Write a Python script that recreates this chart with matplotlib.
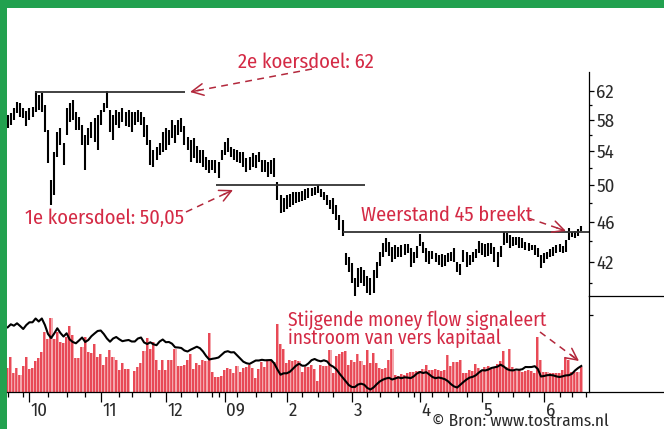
import numpy as np
import matplotlib
matplotlib.use('Agg')
import matplotlib.pyplot as plt
from matplotlib.lines import Line2D
from matplotlib.patches import Rectangle, FancyArrowPatch
from matplotlib.ticker import FixedLocator, FixedFormatter, NullFormatter

plt.rcParams['font.family'] = ['Fira Sans Condensed', 'DejaVu Sans']

# ---------------- data ----------------
high = [58.7, 58.9, 59.6, 60.4, 60.3, 59.6, 59.2, 59.6, 59.7, 61.9,
        61.4, 61.7, 60.0, 56.7, 50.6, 53.9, 56.4, 56.9, 55.0, 59.6,
        60.3, 60.7, 59.1, 58.4, 57.3, 56.0, 56.9, 57.7, 58.3, 58.7,
        59.3, 60.3, 61.9, 59.3, 58.7, 59.3, 59.1, 59.6, 59.1, 59.3,
        59.1, 59.1, 59.3, 59.1, 58.4, 57.3, 55.4, 54.2, 54.5, 55.0,
        56.4, 56.9, 56.7, 58.0, 57.3, 58.0, 58.3, 57.2, 55.8, 55.4,
        55.7, 54.7, 54.2, 54.2, 53.3, 53.0, 53.0, 53.0, 52.7, 54.2,
        55.2, 55.7, 54.5, 54.3, 54.2, 53.9, 53.9, 53.2, 53.3, 53.8,
        53.6, 53.9, 53.0, 53.0, 52.7, 53.0, 53.2, 50.4, 48.9, 48.6,
        48.9, 49.0, 49.2, 49.2, 49.2, 49.3, 49.5, 49.7, 49.7, 49.8,
        50.0, 49.5, 49.2, 48.9, 48.3, 48.6, 47.8, 46.7, 46.2, 42.8,
        42.4, 41.9, 40.5, 41.4, 41.5, 41.2, 40.6, 40.5, 41.2, 42.0,
        42.9, 43.8, 44.3, 43.9, 43.4, 43.6, 43.4, 43.6, 43.7, 43.7,
        43.3, 42.9, 43.5, 44.7, 43.9, 43.3, 43.0, 43.0, 42.8, 42.6,
        42.7, 42.6, 42.8, 42.9, 43.3, 42.0, 41.8, 43.1, 42.9, 42.6,
        42.9, 43.2, 44.0, 43.8, 43.7, 43.8, 43.8, 43.4, 42.9, 43.5,
        44.9, 44.8, 44.6, 44.4, 44.4, 44.4, 44.3, 43.9, 43.8, 43.6,
        43.6, 43.3, 42.6, 42.8, 42.9, 43.2, 43.4, 43.6, 43.7, 43.5,
        44.1, 45.3, 44.9, 45.0, 45.2, 45.5]
low = [56.9, 57.3, 58.0, 58.9, 58.4, 58.3, 57.2, 58.0, 58.4, 59.1,
       59.3, 59.1, 56.4, 52.6, 47.8, 48.9, 53.3, 54.8, 52.4, 56.0,
       57.7, 58.0, 56.7, 56.7, 54.8, 51.8, 54.8, 55.7, 55.2, 54.2,
       57.3, 59.1, 59.6, 56.4, 55.4, 57.3, 56.9, 57.7, 57.2, 57.1,
       56.4, 57.3, 57.7, 57.3, 55.8, 54.8, 52.4, 52.1, 53.0, 53.6,
       53.9, 54.2, 54.8, 55.7, 55.0, 56.0, 56.4, 54.8, 54.2, 52.7,
       53.2, 52.6, 52.6, 52.1, 51.8, 51.4, 51.8, 51.4, 50.8, 53.0,
       53.6, 53.9, 53.3, 53.0, 52.7, 52.6, 52.1, 51.5, 51.8, 52.1,
       52.0, 52.7, 51.5, 51.5, 50.9, 51.3, 50.9, 48.3, 46.9, 47.0,
       47.3, 47.6, 47.8, 48.0, 48.1, 48.2, 48.3, 48.6, 48.8, 48.9,
       49.1, 48.7, 48.3, 47.8, 47.3, 46.8, 46.2, 45.1, 44.5, 41.7,
       41.0, 40.0, 38.8, 39.6, 40.0, 39.7, 39.1, 38.9, 39.1, 40.5,
       41.6, 42.4, 42.9, 42.5, 42.0, 42.2, 42.4, 42.4, 42.6, 42.8,
       41.5, 41.9, 42.3, 43.5, 42.8, 42.0, 41.8, 42.2, 42.0, 41.7,
       41.5, 41.6, 42.0, 42.1, 42.0, 41.0, 40.7, 42.0, 41.5, 41.7,
       42.0, 42.3, 42.8, 42.6, 42.4, 42.5, 42.7, 42.0, 41.5, 42.4,
       43.6, 43.8, 43.3, 43.5, 43.6, 43.3, 43.3, 43.1, 43.0, 43.1,
       42.6, 42.4, 41.4, 41.9, 42.2, 42.4, 42.5, 42.8, 42.9, 42.8,
       42.9, 44.1, 44.4, 44.3, 44.5, 45.0]
volume = [24, 35, 19, 24, 17, 26, 35, 23, 24, 31,
          34, 40, 60, 53, 74, 53, 60, 50, 49, 55,
          66, 57, 34, 34, 45, 55, 40, 39, 48, 35,
          38, 27, 35, 42, 35, 32, 22, 29, 23, 23,
          0, 21, 25, 29, 41, 54, 43, 50, 32, 22,
          32, 22, 32, 32, 43, 26, 26, 27, 32, 38,
          23, 29, 27, 32, 31, 59, 20, 15, 15, 16,
          22, 24, 23, 19, 26, 20, 24, 25, 27, 24,
          14, 23, 30, 25, 32, 32, 30, 68, 48, 43,
          29, 32, 31, 32, 31, 20, 25, 25, 27, 23,
          11, 27, 26, 26, 42, 19, 36, 38, 40, 41,
          27, 32, 30, 38, 31, 27, 42, 29, 39, 29,
          24, 23, 24, 32, 43, 17, 16, 18, 17, 19,
          20, 20, 21, 21, 23, 27, 22, 22, 23, 22,
          21, 22, 37, 26, 30, 30, 32, 19, 19, 22,
          21, 28, 24, 22, 25, 26, 23, 25, 28, 31,
          41, 25, 43, 25, 21, 22, 20, 21, 22, 21,
          19, 55, 32, 20, 20, 19, 19, 19, 19, 22,
          34, 32, 20, 20, 20, 25]
money_flow = [64.7, 67.7, 66.3, 68.7, 66.0, 63.0, 67.0, 69.7, 69.7, 73.5,
              70.5, 73.5, 67.0, 58.0, 54.0, 58.5, 63.7, 59.0, 55.5, 58.7,
              52.5, 50.0, 48.7, 51.5, 54.5, 50.0, 52.0, 55.8, 58.5, 61.0,
              61.5, 58.0, 53.5, 50.3, 53.5, 55.0, 52.7, 50.8, 51.5, 52.0,
              50.5, 50.5, 53.5, 54.5, 49.5, 48.0, 49.7, 47.7, 46.8, 50.5,
              52.5, 49.8, 50.0, 48.3, 44.7, 44.5, 44.0, 41.5, 40.5, 42.3,
              43.8, 45.3, 43.8, 40.5, 36.0, 32.5, 33.2, 33.7, 34.5, 37.3,
              40.0, 40.8, 39.6, 39.8, 36.6, 33.5, 30.3, 28.8, 28.1, 29.8,
              31.5, 31.5, 32.2, 31.7, 31.8, 32.0, 28.5, 22.5, 17.3, 18.7,
              18.7, 20.2, 23.3, 26.3, 28.3, 26.3, 26.3, 28.6, 31.8, 33.0,
              31.5, 30.7, 31.7, 30.6, 27.0, 25.3, 22.7, 18.5, 14.7, 11.0,
              7.0, 5.0, 5.0, 7.5, 8.3, 7.3, 4.0, 2.5, 4.5, 7.7,
              10.5, 12.3, 13.5, 14.2, 12.5, 13.6, 14.6, 13.8, 14.7, 14.4,
              13.9, 15.7, 18.5, 20.0, 19.0, 19.8, 17.5, 15.0, 13.8, 14.5,
              13.8, 12.8, 10.8, 7.8, 5.5, 4.5, 7.3, 10.0, 12.5, 14.4,
              15.2, 16.7, 19.5, 21.8, 21.5, 22.4, 24.0, 24.7, 25.4, 27.3,
              25.5, 23.0, 21.8, 21.6, 22.5, 22.2, 22.8, 25.0, 24.9, 25.0,
              25.8, 23.0, 15.5, 16.0, 16.8, 17.0, 16.6, 15.6, 15.0, 15.7,
              16.6, 16.8, 18.2, 21.5, 24.0, 26.0]

target_levels = [61.8, 50.05, 44.9]
target_from = [8.8, 67.2, 108.3]
target_to = [57.2, 115.2, 187.5]

month_ticks = [7, 30, 51, 70, 90, 111, 133, 153, 173]
month_labels = ['10', '11', '12', '09', '2', '3', '4', '5', '6']
week_ticks = [0, 5, 13, 19, 25, 36, 40, 46, 56, 61, 66, 68, 74, 80, 85, 95,
              100, 105, 116, 120, 126, 131, 137, 142, 148, 158, 163, 168,
              178, 182, 186.5]
price_ticks = [42, 46, 50, 54, 58, 62]
price_minor = [40, 44, 48, 52, 56, 60]
volume_ticks = [77]

# ---------------- layout ----------------
W, H = 664, 429
fig = plt.figure(figsize=(W / 100, H / 100), dpi=100)
renderer = fig.canvas.get_renderer()


def fx(x):
    return x / W


def fy(y):
    return 1 - y / H


RED_TXT = '#d42a45'
RED_ARR = '#b3283c'
GREEN = '#22a14f'
DARK = '#2a2a2a'

idx = np.arange(len(high))

ax_p = fig.add_axes([fx(7), fy(296), (589 - 7) / W, (296 - 72) / H])
ax_v = fig.add_axes([fx(7), fy(392), (589 - 7) / W, (392 - 296) / H])

for ax in (ax_p, ax_v):
    ax.set_xlim(-0.23, 187.5)
    ax.patch.set_visible(False)
    for s in ('top', 'left', 'bottom'):
        ax.spines[s].set_visible(False)
    ax.spines['right'].set_linewidth(0.9)
    ax.yaxis.tick_right()

ax_p.set_yscale('log')
ax_p.set_ylim(38.83, 64.70)
ax_p.vlines(idx, low, high, color='black', lw=1.5)
ax_p.hlines(target_levels, target_from, target_to, color='#333333', lw=1.3)
ax_p.yaxis.set_major_locator(FixedLocator(price_ticks))
ax_p.yaxis.set_major_formatter(FixedFormatter([str(t) for t in price_ticks]))
ax_p.yaxis.set_minor_locator(FixedLocator(price_minor))
ax_p.yaxis.set_minor_formatter(NullFormatter())
ax_p.tick_params(axis='y', which='major', direction='out', length=3.6,
                 width=0.9, pad=1.5, labelsize=13.5, labelcolor=DARK)
ax_p.tick_params(axis='y', which='minor', direction='out', length=2.2,
                 width=0.9)
ax_p.tick_params(axis='x', which='both', bottom=False, labelbottom=False)

ax_v.set_ylim(0, 96)
ax_v.bar(idx, volume, width=0.9, color='#f4a7ad', linewidth=0)
ax_v.vlines(idx - 0.22, 0, volume, color='#e52d3c', lw=1.1)
ax_v.plot(idx, money_flow, color='black', lw=1.5)
ax_v.set_yticks(volume_ticks)
ax_v.set_yticklabels([])
ax_v.tick_params(axis='y', direction='out', length=3, width=0.9)
ax_v.set_xticks(month_ticks)
ax_v.set_xticks(week_ticks, minor=True)
ax_v.tick_params(axis='x', which='major', direction='out', length=7,
                 width=0.9, labelbottom=False)
ax_v.tick_params(axis='x', which='minor', direction='out', length=3.6,
                 width=0.9)
for t, lab in zip(month_ticks, month_labels):
    ax_v.annotate(lab, xy=(t, 0), xycoords=('data', 'axes fraction'),
                  xytext=(1.5, -23.5), textcoords='offset pixels',
                  ha='left', va='baseline', fontsize=13.5, color=DARK)

fig.add_artist(Line2D([fx(7), 1], [fy(392), fy(392)], color='black', lw=0.9))
fig.add_artist(Line2D([fx(589), 1], [fy(296), fy(296)], color='black', lw=0.9))

fig.add_artist(Rectangle((0, 0), fx(7), 1, transform=fig.transFigure,
                         color=GREEN, lw=0))
fig.add_artist(Rectangle((0, fy(8)), 1, 8 / H, transform=fig.transFigure,
                         color=GREEN, lw=0))


def fit_text(x, y, s, width, **kw):
    t = fig.text(fx(x), fy(y), s, **kw)
    w = t.get_window_extent(renderer).width
    t.set_fontsize(t.get_fontsize() * width / w)
    return t


fit_text(238, 68, '2e koersdoel: 62', 136, color=RED_TXT, fontsize=15,
         va='baseline')
fit_text(25, 224, '1e koersdoel: 50,05', 159, color=RED_TXT, fontsize=15,
         va='baseline')
fit_text(361, 221, 'Weerstand 45 breekt', 171, color=RED_TXT, fontsize=15,
         va='baseline')
fit_text(288, 325.5, 'Stijgende money flow signaleert', 257,
         color=RED_TXT, fontsize=15, va='baseline')
fit_text(288, 344, 'instroom van vers kapitaal', 212,
         color=RED_TXT, fontsize=15, va='baseline')
fit_text(432, 429, '\u00a9 Bron: www.tostrams.nl', 177, color=DARK,
         fontsize=13, va='bottom')


def arrow(x0, y0, x1, y1):
    X0, Y0, X1, Y1 = x0, H - y0, x1, H - y1
    L = np.hypot(X1 - X0, Y1 - Y0)
    ux, uy = (X1 - X0) / L, (Y1 - Y0) / L
    fig.add_artist(Line2D([X0 / W, (X1 - ux * 4) / W],
                          [Y0 / H, (Y1 - uy * 4) / H],
                          transform=fig.transFigure, color=RED_ARR, lw=1.1,
                          linestyle=(0, (4.5, 3.5))))
    fig.add_artist(FancyArrowPatch(((X1 - ux * 10) / W, (Y1 - uy * 10) / H),
                                   (X1 / W, Y1 / H),
                                   transform=fig.transFigure,
                                   arrowstyle='->,head_length=0.7,head_width=0.35',
                                   mutation_scale=12, color=RED_ARR, lw=1.1,
                                   shrinkA=0, shrinkB=0))


arrow(312, 69, 190, 92)
arrow(186, 212, 233, 190)
arrow(528, 218, 566, 231)
arrow(540, 332, 579, 361)

fig.savefig('out.png', dpi=100)
